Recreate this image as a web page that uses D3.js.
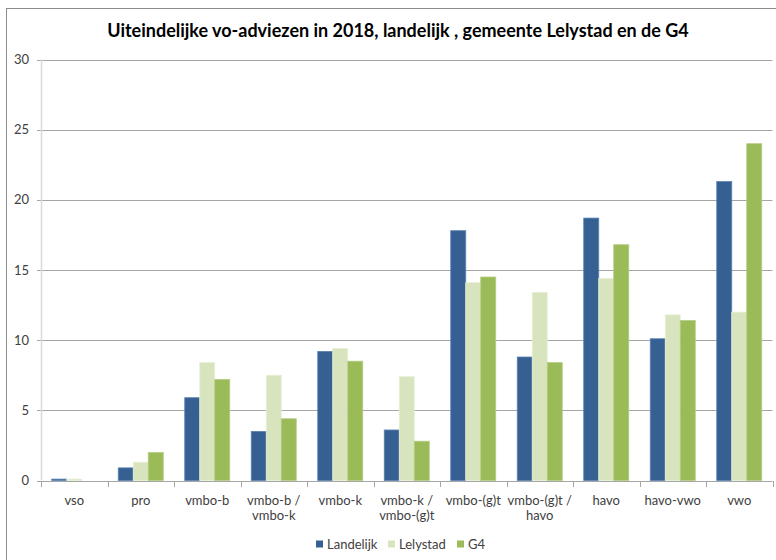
<!DOCTYPE html>
<html><head><meta charset="utf-8">
<script src="https://cdn.jsdelivr.net/npm/d3@7"></script>
<style>
html,body{margin:0;padding:0;background:#fff;}
svg{display:block;font-family:Lato, "Open Sans", sans-serif;}
</style></head>
<body>
<svg id="chart" width="776" height="560"></svg>
<script>
const title = "Uiteindelijke vo-adviezen in 2018, landelijk , gemeente Lelystad en de G4";
const categories = ["vso","pro","vmbo-b","vmbo-b / vmbo-k","vmbo-k","vmbo-k / vmbo-(g)t","vmbo-(g)t","vmbo-(g)t / havo","havo","havo-vwo","vwo"];
const seriesNames = ["Landelijk","Lelystad","G4"];
const landelijk = [0.1, 0.9, 5.9, 3.5, 9.2, 3.6, 17.8, 8.8, 18.7, 10.1, 21.3];
const lelystad  = [0.1, 1.3, 8.4, 7.5, 9.4, 7.4, 14.1, 13.4, 14.4, 11.8, 12.0];
const g4        = [0.0, 2.0, 7.2, 4.4, 8.5, 2.8, 14.5, 8.4, 16.8, 11.4, 24.0];
const yTicks = [0,5,10,15,20,25,30];
const colors = ["#376092","#D7E4BD","#9BBB59"];
const strokes = ["#5a82b3","#e6eed6","#b3cc80"];

const values = [landelijk, lelystad, g4];
const svg = d3.select("#chart");

// outer border
svg.append("rect").attr("x",6.5).attr("y",8.5).attr("width",800).attr("height",600)
  .attr("fill","none").attr("stroke","#8c8c8c").attr("stroke-width",1);

const tt = svg.append("text").attr("x",398).attr("y",37).attr("text-anchor","middle")
  .attr("font-size",16).attr("font-weight","bold").attr("fill","#000").text(title);
const tw = tt.node().getComputedTextLength();
if (tw > 0) tt.attr("font-size", Math.min(19, 16 * 582 / tw));

const left = 41, right = 772.5;
const x0 = d3.scaleBand().domain(categories).range([left,right]).paddingInner(0).paddingOuter(0);
const step = x0.bandwidth();
const groupW = 45;
const x1 = d3.scaleBand().domain(seriesNames).range([(step-groupW)/2,(step+groupW)/2]).padding(0);
const y = d3.scaleLinear().domain([0,30]).range([480.5,59.5]);

// gridlines
svg.append("g").selectAll("line").data(yTicks.filter(d=>d>0)).join("line")
  .attr("x1",left-4).attr("x2",right).attr("y1",d=>Math.round(y(d))+0.5).attr("y2",d=>Math.round(y(d))+0.5)
  .attr("stroke","#a6a6a6").attr("stroke-width",1);

// y axis line
svg.append("line").attr("x1",left+0.5).attr("x2",left+0.5).attr("y1",y(30)).attr("y2",y(0))
  .attr("stroke","#d9d9d9").attr("stroke-width",1.5);

// y tick labels
svg.append("g").selectAll("text").data(yTicks).join("text")
  .attr("x",29).attr("y",d=>y(d)).attr("dy","0.35em").attr("text-anchor","end")
  .attr("font-size",13).attr("fill","#404040").text(d=>d);

// bars
const groups = svg.append("g").selectAll("g").data(categories).join("g")
  .attr("transform",d=>`translate(${x0(d)},0)`);
groups.selectAll("rect").data((c,i)=>seriesNames.map((s,j)=>({s,j,v:values[j][i]}))).join("rect")
  .attr("x",d=>x1(d.s)).attr("width",x1.bandwidth())
  .attr("y",d=>y(d.v)).attr("height",d=>y(0)-y(d.v))
  .attr("fill",d=>colors[d.j]).attr("stroke",d=>d.v>0?strokes[d.j]:"none").attr("stroke-width",0.8);

// x axis line
svg.append("line").attr("x1",left-4).attr("x2",right).attr("y1",Math.round(y(0))+0.5).attr("y2",Math.round(y(0))+0.5)
  .attr("stroke","#a6a6a6").attr("stroke-width",1);
// x ticks at boundaries
const bounds = categories.map(c=>x0(c)).concat([right]);
svg.append("g").selectAll("line").data(bounds).join("line")
  .attr("x1",d=>Math.round(d)+0.5).attr("x2",d=>Math.round(d)+0.5)
  .attr("y1",Math.round(y(0))).attr("y2",Math.round(y(0))+6)
  .attr("stroke","#a6a6a6").attr("stroke-width",1);

// x labels
const xl = svg.append("g").selectAll("text").data(categories).join("text")
  .attr("x",d=>x0(d)+step/2).attr("y",500).attr("dy","0.35em").attr("text-anchor","middle")
  .attr("font-size",13).attr("fill","#404040");
xl.each(function(d){
  const parts = d.split(" / ");
  const t = d3.select(this);
  parts.forEach((p,i)=>{
    t.append("tspan").attr("x",x0(d)+step/2).attr("dy",i===0?"0.35em":"15")
      .text(i<parts.length-1 ? p+" /" : p);
  });
});

// legend
const legX = [316,388,457];
const leg = svg.append("g").selectAll("g").data(seriesNames).join("g")
  .attr("transform",(d,i)=>`translate(${legX[i]},544)`);
leg.append("rect").attr("x",0).attr("y",-3.5).attr("width",7).attr("height",7).attr("fill",(d,i)=>colors[i]);
leg.append("text").attr("x",11).attr("y",0).attr("dy","0.35em").attr("font-size",13).attr("fill","#404040").text(d=>d);
</script>
</body></html>
